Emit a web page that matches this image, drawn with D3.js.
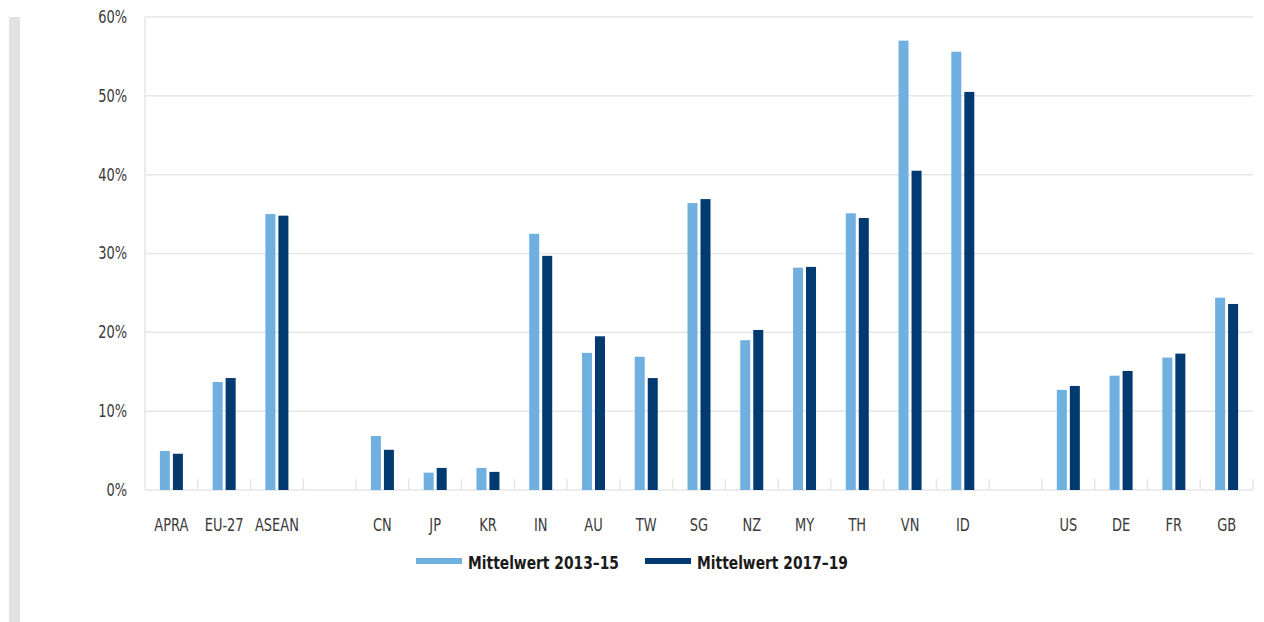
<!DOCTYPE html>
<html>
<head>
<meta charset="utf-8">
<script src="https://cdn.jsdelivr.net/npm/d3@7"></script>
<style>
  body { margin: 0; background: #fff; }
  svg text { font-family: "Liberation Sans Narrow", "DejaVu Sans Condensed", sans-serif; }
</style>
</head>
<body>
<svg id="chart" width="1264" height="622"></svg>
<script>
// categories, blank slots are the gaps between the groups
const categories = ["APRA", "EU-27", "ASEAN", "gap1", "CN", "JP", "KR", "IN", "AU", "TW", "SG", "NZ", "MY", "TH", "VN", "ID", "gap2", "US", "DE", "FR", "GB"];
const mean2013_15 = [4.95, 13.7, 35.0, null, 6.85, 2.2, 2.8, 32.5, 17.4, 16.9, 36.4, 19.0, 28.2, 35.1, 57.0, 55.6, null, 12.7, 14.5, 16.8, 24.4];
const mean2017_19 = [4.6, 14.2, 34.8, null, 5.1, 2.8, 2.3, 29.7, 19.5, 14.2, 36.9, 20.3, 28.3, 34.5, 40.5, 50.5, null, 13.2, 15.1, 17.3, 23.6];
const seriesNames = ["Mittelwert 2013–15", "Mittelwert 2017–19"];
const yTicks = [0, 10, 20, 30, 40, 50, 60];

const colors = ["#70b0e0", "#003a70"];
const gridColor = "#e6e6e6";
const squeeze = 0.85; // labels are set in a condensed face

const svg = d3.select("#chart");

// grey strip on the left
svg.append("rect")
    .attr("x", 9)
    .attr("y", 17)
    .attr("width", 11)
    .attr("height", 605)
    .attr("fill", "#e2e2e2");

const plotLeft = 145, plotRight = 1253, plotTop = 17, plotBottom = 490;

const x = d3.scaleBand()
    .domain(categories)
    .range([plotLeft, plotRight])
    .padding(0);

const x1 = d3.scaleBand()
    .domain(seriesNames)
    .range([0, 23])
    .paddingInner(3 / 13)
    .paddingOuter(0);

const y = d3.scaleLinear()
    .domain([0, 60])
    .range([plotBottom, plotTop]);

// gridlines + y axis labels
const yAxis = d3.axisLeft(y)
    .tickValues(yTicks)
    .tickSize(0)
    .tickPadding(21)
    .tickFormat(d => d + "%");

const yg = svg.append("g")
    .attr("transform", `translate(${plotLeft},0)`)
    .call(yAxis);
yg.select(".domain").remove();
yg.selectAll("text")
    .style("font-size", "17px")
    .attr("fill", "#3a3a3a")
    .attr("transform", `scale(${squeeze},1)`);

svg.append("g")
  .selectAll("line")
  .data(yTicks)
  .join("line")
    .attr("x1", plotLeft)
    .attr("x2", plotRight)
    .attr("y1", d => y(d))
    .attr("y2", d => y(d))
    .attr("stroke", gridColor)
    .attr("stroke-width", 1.5);

// left axis line
svg.append("line")
    .attr("x1", plotLeft).attr("x2", plotLeft)
    .attr("y1", plotTop).attr("y2", plotBottom)
    .attr("stroke", gridColor)
    .attr("stroke-width", 1.5);

// small ticks between categories
const boundaries = categories.map(c => x(c)).concat([plotRight]);
svg.append("g")
  .selectAll("line")
  .data(boundaries.slice(1))
  .join("line")
    .attr("x1", d => d).attr("x2", d => d)
    .attr("y1", plotBottom - 11).attr("y2", plotBottom)
    .attr("stroke", gridColor)
    .attr("stroke-width", 1.5);

// bars
const offset = (x.bandwidth() - 23) / 2;
const seriesData = [mean2013_15, mean2017_19];
seriesData.forEach((vals, si) => {
  svg.append("g")
    .selectAll("rect")
    .data(categories.map((c, i) => ({ c, v: vals[i] })).filter(d => d.v != null))
    .join("rect")
      .attr("x", d => x(d.c) + offset + x1(seriesNames[si]))
      .attr("y", d => y(d.v))
      .attr("width", x1.bandwidth())
      .attr("height", d => y(0) - y(d.v))
      .attr("fill", colors[si]);
});

// x labels
const xAxis = d3.axisBottom(x)
    .tickSize(0)
    .tickPadding(29)
    .tickFormat(d => d.startsWith("gap") ? "" : d);
const xg = svg.append("g")
    .attr("transform", `translate(0,${plotBottom})`)
    .call(xAxis);
xg.select(".domain").remove();
xg.selectAll("text")
    .style("font-size", "17px")
    .attr("fill", "#3a3a3a")
    .attr("transform", `scale(${squeeze},1)`);

// legend
const legend = svg.append("g");
const legendX = [416, 645];
seriesNames.forEach((name, i) => {
  legend.append("rect")
      .attr("x", legendX[i])
      .attr("y", 558)
      .attr("width", 46)
      .attr("height", 6)
      .attr("fill", colors[i]);
  legend.append("text")
      .attr("x", legendX[i] + 52)
      .attr("y", 569)
      .attr("text-anchor", "start")
      .attr("textLength", 151)
      .attr("lengthAdjust", "spacingAndGlyphs")
      .style("font-size", "17px")
      .style("font-weight", "bold")
      .attr("fill", "#1a1a1a")
      .text(name);
});
</script>
</body>
</html>
